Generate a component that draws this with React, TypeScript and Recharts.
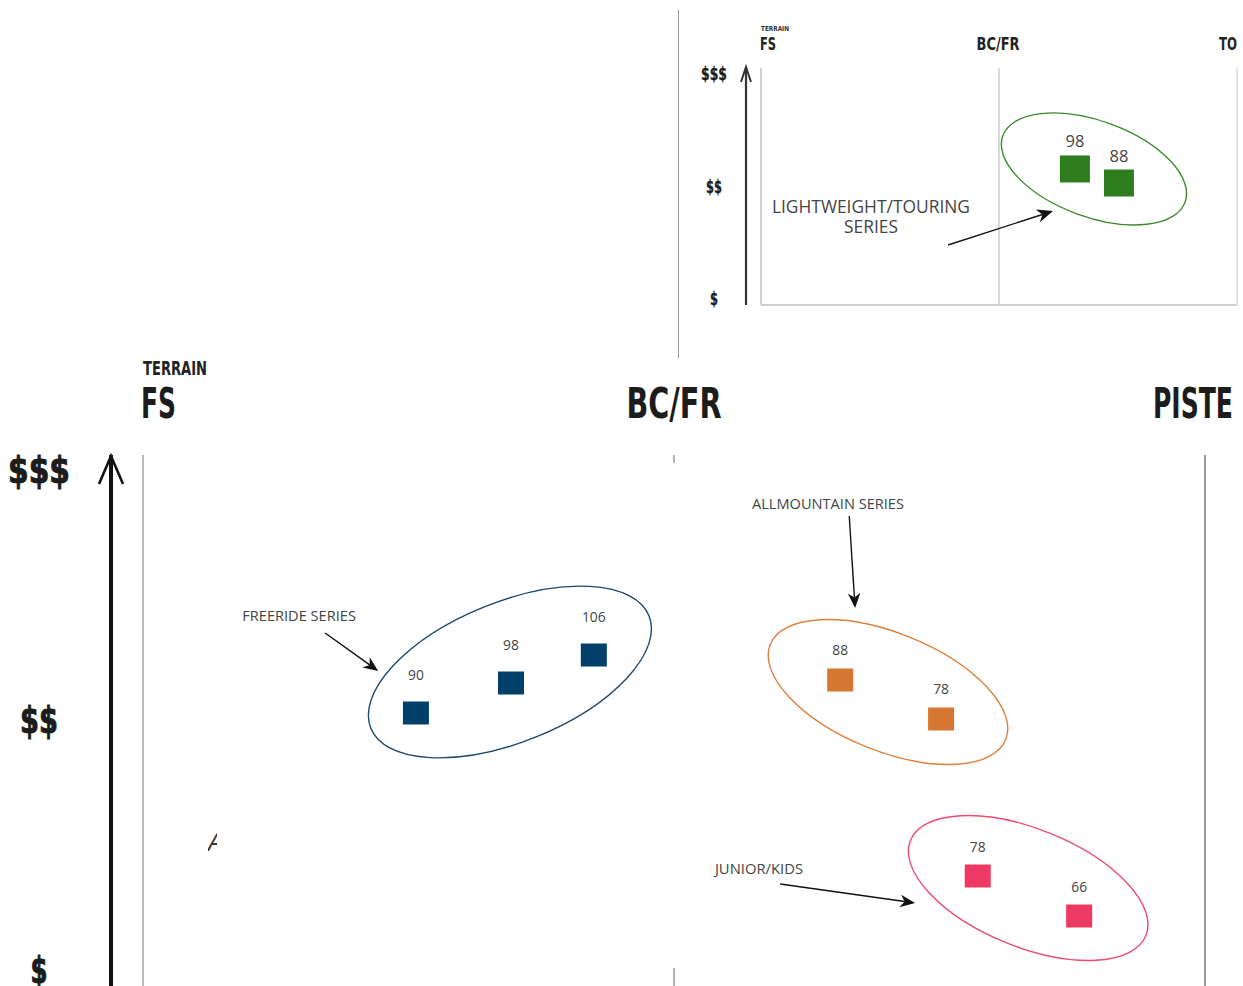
import React from "react";
import { ScatterChart, Scatter, XAxis, YAxis, ReferenceLine, ReferenceDot } from "recharts";

// axis categories
const terrainMain = ["FS", "BC/FR", "PISTE"];
const terrainTop = ["FS", "BC/FR", "TO"];
const priceLevels = ["", "$", "$$", "$$$"];

// big chart series (x = terrain position 0..2, y = price 1..3)
const freerideSizes = [90, 98, 106];
const freerideTerrain = [0.514, 0.693, 0.849];
const freeridePrice = [2.028, 2.148, 2.26];

const allmountainSizes = [88, 78];
const allmountainTerrain = [1.313, 1.503];
const allmountainPrice = [2.16, 2.004];

const juniorSizes = [78, 66];
const juniorTerrain = [1.572, 1.763];
const juniorPrice = [1.376, 1.216];

// small chart series
const touringSizes = [98, 88];
const touringTerrain = [1.319, 1.504];
const touringPrice = [2.156, 2.031];

// group annotations (data coords)
const groupNames = ["FREERIDE SERIES", "ALLMOUNTAIN SERIES", "JUNIOR/KIDS"];
const groupCenterX = [0.691, 1.403, 1.667];
const groupCenterY = [2.192, 2.112, 1.328];
const noteX = [0.294, 1.29, 1.16];
const noteY = [2.416, 2.864, 1.404];
const arrowFromX = [0.343, 1.33, 1.2];
const arrowFromY = [2.348, 2.816, 1.344];
const arrowToX = [0.443, 1.341, 1.454];
const arrowToY = [2.196, 2.448, 1.268];

const touringNote = ["LIGHTWEIGHT/TOURING", "SERIES"];
const touringCenter = { x: 1.399, y: 2.156 };
const touringNotePos = { x: 0.462, y: 1.818 };
const touringArrow = [
  { x: 0.786, y: 1.48 },
  { x: 1.227, y: 1.782 },
];

const toPoints = (sizes: number[], xs: number[], ys: number[]) =>
  sizes.map((s, i) => ({ size: s, x: xs[i], y: ys[i] }));

const COND = "'Liberation Sans Narrow', 'DejaVu Sans Condensed', 'Roboto Condensed', 'Liberation Sans', sans-serif";
const BODY = "'Open Sans', 'Lato', sans-serif";

const square = (w: number, h: number, fill: string, fontSize: number, gap: number) => (props: any) => {
  const { cx, cy, payload } = props;
  return (
    <g>
      <rect x={cx - w / 2} y={cy - h / 2} width={w} height={h} fill={fill} />
      <text x={cx} y={cy - gap} textAnchor="middle" dominantBaseline="central" fontSize={fontSize} fill="#444" fontFamily={BODY}>
        {payload.size}
      </text>
    </g>
  );
};

const ellipse = (rx: number, ry: number, angle: number, stroke: string) => (props: any) => (
  <ellipse
    cx={props.cx}
    cy={props.cy}
    rx={rx}
    ry={ry}
    transform={`rotate(${angle} ${props.cx} ${props.cy})`}
    fill="none"
    stroke={stroke}
    strokeWidth={1.4}
  />
);

const arrow = (head: number) => (props: any) => {
  const { x1, y1, x2, y2 } = props;
  const a = Math.atan2(y2 - y1, x2 - x1);
  const c = Math.cos(a);
  const s = Math.sin(a);
  const bx = x2 - head * c;
  const by = y2 - head * s;
  const w = head * 0.42;
  const nx = x2 - head * 0.7 * c;
  const ny = y2 - head * 0.7 * s;
  return (
    <g>
      <line x1={x1} y1={y1} x2={nx} y2={ny} stroke="#111" strokeWidth={1.4} />
      <polygon
        points={`${x2},${y2} ${bx + w * s},${by - w * c} ${nx},${ny} ${bx - w * s},${by + w * c}`}
        fill="#111"
      />
    </g>
  );
};

const note = (lines: string[], fontSize: number, lineGap: number) => (props: any) => (
  <text x={props.cx} y={props.cy} textAnchor="middle" fontSize={fontSize} fill="#444" fontFamily={BODY}>
    {lines.map((l, i) => (
      <tspan key={i} x={props.cx} dy={i === 0 ? "0.35em" : lineGap}>
        {l}
      </tspan>
    ))}
  </text>
);

const mainHeaderWidth: Record<string, number> = { FS: 35, "BC/FR": 95, PISTE: 80 };
const MainTerrainTick = (props: any) => {
  const { x, y, payload } = props;
  const label = terrainMain[payload.value];
  const anchor = payload.value === 0 ? "start" : payload.value === 1 ? "middle" : "end";
  const dx = payload.value === 0 ? -2 : payload.value === 1 ? 0 : 28;
  return (
    <g>
      {payload.value === 0 && (
        <text x={x} y={y - 80} fontSize={19} fontWeight="bold" fill="#222" fontFamily={COND} textLength={64} lengthAdjust="spacingAndGlyphs">
          TERRAIN
        </text>
      )}
      <text x={x + dx} y={y - 37} textAnchor={anchor} fontSize={42} fontWeight="bold" fill="#1c1c1c" fontFamily={COND} textLength={mainHeaderWidth[label]} lengthAdjust="spacingAndGlyphs">
        {label}
      </text>
    </g>
  );
};

const topHeaderWidth: Record<string, number> = { FS: 16, "BC/FR": 43, TO: 18 };
const TopTerrainTick = (props: any) => {
  const { x, y, payload } = props;
  const label = terrainTop[payload.value];
  const anchor = payload.value === 0 ? "start" : payload.value === 1 ? "middle" : "end";
  const dx = payload.value === 0 ? -1 : payload.value === 1 ? -1 : 0;
  return (
    <g>
      {payload.value === 0 && (
        <text x={x} y={y - 37} fontSize={7} fontWeight="bold" fill="#333" fontFamily={COND} textLength={28} lengthAdjust="spacingAndGlyphs">
          TERRAIN
        </text>
      )}
      <text x={x + dx} y={y - 18} textAnchor={anchor} fontSize={18} fontWeight="bold" fill="#222" fontFamily={COND} textLength={topHeaderWidth[label]} lengthAdjust="spacingAndGlyphs">
        {label}
      </text>
    </g>
  );
};

const priceTick = (dx: number, fontSize: number, widths: number[], head: number[], headTop: number) => (props: any) => {
  const { x, y, payload } = props;
  const label = priceLevels[payload.value];
  return (
    <g>
      <text x={x + dx} y={y} textAnchor="middle" dominantBaseline="central" fontSize={fontSize} fontWeight="bold" fill="#1c1c1c" stroke="#1c1c1c" strokeWidth={fontSize > 20 ? 1 : 0.3} fontFamily={COND} textLength={widths[payload.value]} lengthAdjust="spacingAndGlyphs">
        {label}
      </text>
      {payload.value === 3 && (
        <polyline
          points={`${x - head[0]},${y + head[1]} ${x},${y - headTop} ${x + head[0]},${y + head[1]}`}
          fill="none"
          stroke={head[2] > 2.2 ? "#111" : "#333"}
          strokeWidth={head[2]}
        />
      )}
    </g>
  );
};

const freeride = toPoints(freerideSizes, freerideTerrain, freeridePrice);
const allmountain = toPoints(allmountainSizes, allmountainTerrain, allmountainPrice);
const junior = toPoints(juniorSizes, juniorTerrain, juniorPrice);
const touring = toPoints(touringSizes, touringTerrain, touringPrice);

const groupStyles = [
  { rx: 150, ry: 70, angle: -22, stroke: "#1b4a6e", font: 14.6 },
  { rx: 127, ry: 59, angle: 22, stroke: "#dc803e", font: 14.6 },
  { rx: 127, ry: 59, angle: 22, stroke: "#ee4a70", font: 14.8 },
];

export default function App() {
  return (
    <div style={{ position: "absolute", left: 0, top: 0, width: 1243, height: 986, overflow: "hidden", background: "#fff" }}>
      {/* top inset chart */}
      <div style={{ position: "absolute", left: 678, top: 10, height: 348, borderLeft: "1px solid #999" }} />
      <div style={{ position: "absolute", left: 678, top: 0 }}>
        <ScatterChart width={565} height={360} margin={{ top: 0, right: 6, left: 0, bottom: 0 }}>
          <XAxis xAxisId="top" orientation="top" type="number" dataKey="x" domain={[0, 2]} ticks={[0, 1, 2]} interval={0} height={68} axisLine={false} tickLine={false} tickSize={0} tickMargin={0} tick={<TopTerrainTick />} />
          <XAxis xAxisId="base" orientation="bottom" type="number" dataKey="x" domain={[0, 2]} height={55} tick={false} tickLine={false} axisLine={{ stroke: "#cfcfcf", strokeWidth: 2 }} />
          <YAxis yAxisId="price" type="number" dataKey="y" domain={[1, 3]} padding={{ top: 6, bottom: 6 }} ticks={[1, 2, 3]} interval={0} width={68} tickLine={false} tickSize={0} tickMargin={0} axisLine={{ stroke: "#333", strokeWidth: 2.2 }} tick={priceTick(-32, 17, [0, 8, 16, 26], [5, 8, 2], 7)} />
          <YAxis yAxisId="edge" type="number" domain={[1, 3]} padding={{ top: 6, bottom: 6 }} width={15} tick={false} tickLine={false} axisLine={{ stroke: "#cfcfcf", strokeWidth: 2 }} />
          <ReferenceLine xAxisId="top" yAxisId="price" x={1} stroke="#dadada" strokeWidth={2} />
          <ReferenceLine xAxisId="top" yAxisId="price" x={2} stroke="#e2e2e2" strokeWidth={2} />
          <ReferenceDot xAxisId="top" yAxisId="price" x={touringCenter.x} y={touringCenter.y} r={1} shape={ellipse(97, 48, 20, "#3a8a2a")} />
          <ReferenceDot xAxisId="top" yAxisId="price" x={touringNotePos.x} y={touringNotePos.y} r={1} shape={note(touringNote, 17.4, 20)} />
          <ReferenceLine xAxisId="top" yAxisId="price" segment={touringArrow} shape={arrow(16)} />
          <Scatter xAxisId="top" yAxisId="price" data={touring} shape={square(30, 27, "#2e7d1f", 16.5, 28)} isAnimationActive={false} />
        </ScatterChart>
      </div>

      {/* main chart */}
      <div style={{ position: "absolute", left: 0, top: 340 }}>
        <ScatterChart width={1243} height={680} margin={{ top: 0, right: 38, left: 0, bottom: 0 }}>
          <XAxis xAxisId="top" orientation="top" type="number" dataKey="x" domain={[0, 2]} ticks={[0, 1, 2]} interval={0} height={115} axisLine={false} tickLine={false} tickSize={0} tickMargin={0} tick={<MainTerrainTick />} />
          <YAxis yAxisId="price" type="number" dataKey="y" domain={[1, 3]} padding={{ top: 15, bottom: 50 }} ticks={[1, 2, 3]} interval={0} width={111} tickLine={false} tickSize={0} tickMargin={0} axisLine={{ stroke: "#111", strokeWidth: 4 }} tick={priceTick(-72, 38, [0, 17, 38, 62], [12, 14, 2.6], 14)} />
          <YAxis yAxisId="edge" type="number" domain={[1, 3]} padding={{ top: 15, bottom: 50 }} width={32} tick={false} tickLine={false} axisLine={{ stroke: "#8a8a8a", strokeWidth: 1.2 }} />
          <ReferenceLine xAxisId="top" yAxisId="price" x={2} stroke="#9a9a9a" strokeWidth={2} />
          <ReferenceLine xAxisId="top" yAxisId="price" ifOverflow="visible" segment={[{ x: 1, y: 3.06 }, { x: 1, y: 3.028 }]} stroke="#999" strokeWidth={1.5} />
          <ReferenceLine xAxisId="top" yAxisId="price" ifOverflow="visible" segment={[{ x: 1, y: 1.008 }, { x: 1, y: 0.9 }]} stroke="#999" strokeWidth={1.5} />
          {groupNames.map((name, i) => (
            <ReferenceDot key={`e${i}`} xAxisId="top" yAxisId="price" x={groupCenterX[i]} y={groupCenterY[i]} r={1} shape={ellipse(groupStyles[i].rx, groupStyles[i].ry, groupStyles[i].angle, groupStyles[i].stroke)} />
          ))}
          {groupNames.map((name, i) => (
            <ReferenceDot key={`n${i}`} xAxisId="top" yAxisId="price" x={noteX[i]} y={noteY[i]} r={1} shape={note([name], groupStyles[i].font, 0)} />
          ))}
          {groupNames.map((name, i) => (
            <ReferenceLine
              key={`a${i}`}
              xAxisId="top"
              yAxisId="price"
              segment={[
                { x: arrowFromX[i], y: arrowFromY[i] },
                { x: arrowToX[i], y: arrowToY[i] },
              ]}
              shape={arrow(15)}
            />
          ))}
          <Scatter xAxisId="top" yAxisId="price" data={freeride} shape={square(26, 23, "#00406a", 13.8, 39)} isAnimationActive={false} />
          <Scatter xAxisId="top" yAxisId="price" data={allmountain} shape={square(26, 23, "#d67731", 13.8, 31)} isAnimationActive={false} />
          <Scatter xAxisId="top" yAxisId="price" data={junior} shape={square(26, 23, "#ee3a63", 13.8, 30)} isAnimationActive={false} />
        </ScatterChart>
      </div>

      <div style={{ position: "absolute", left: 208, top: 826, width: 9, height: 30, overflow: "hidden" }}>
        <span style={{ fontFamily: BODY, fontStyle: "italic", fontSize: 26, color: "#333", lineHeight: "30px" }}>A</span>
      </div>
    </div>
  );
}
